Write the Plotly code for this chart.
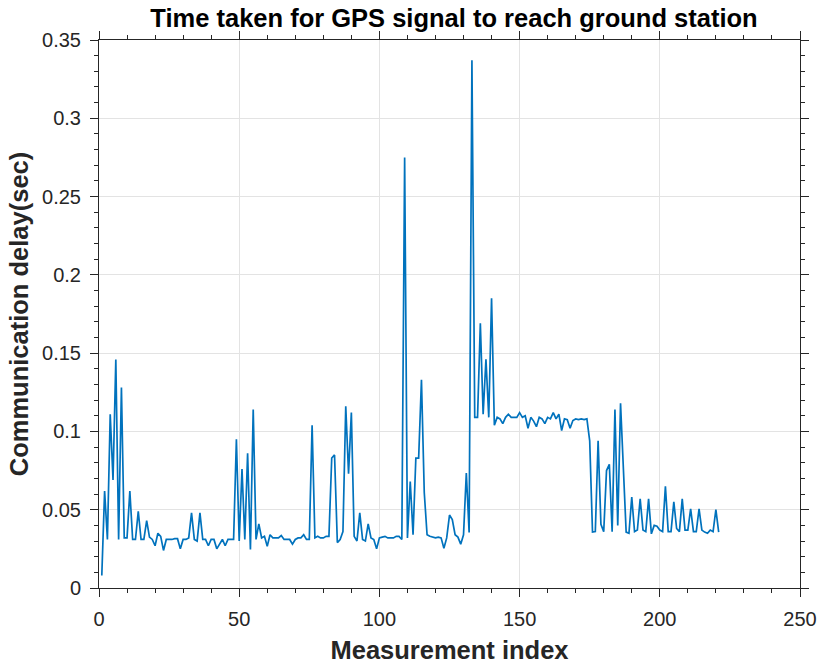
import plotly.graph_objects as go

title_text = "Time taken for GPS signal to reach ground station"
x_label = "Measurement index"
y_label = "Communication delay(sec)"

delay_sec = [
    0.008, 0.062, 0.031, 0.111, 0.069, 0.146, 0.031, 0.128, 0.032, 0.032,
    0.062, 0.031, 0.031, 0.049, 0.031, 0.031, 0.043, 0.0325, 0.031, 0.027,
    0.035, 0.033, 0.024, 0.031, 0.031, 0.031, 0.0315, 0.0315, 0.025, 0.031,
    0.031, 0.032, 0.048, 0.031, 0.030, 0.048, 0.031, 0.031, 0.027, 0.031,
    0.031, 0.025, 0.028, 0.031, 0.027, 0.031, 0.031, 0.031, 0.095, 0.030,
    0.076, 0.031, 0.086, 0.0246, 0.114, 0.031, 0.041, 0.032, 0.033, 0.0267,
    0.034, 0.032, 0.032, 0.032, 0.0335, 0.031, 0.031, 0.031, 0.028, 0.031,
    0.032, 0.032, 0.034, 0.031, 0.031, 0.104, 0.032, 0.033, 0.032, 0.032,
    0.033, 0.033, 0.083, 0.085, 0.029, 0.031, 0.036, 0.116, 0.073, 0.112,
    0.033, 0.030, 0.048, 0.031, 0.030, 0.041, 0.032, 0.031, 0.025, 0.032,
    0.0325, 0.033, 0.032, 0.032, 0.032, 0.033, 0.033, 0.031, 0.275, 0.032,
    0.068, 0.034, 0.083, 0.083, 0.133, 0.061, 0.034, 0.033, 0.0325, 0.032,
    0.0325, 0.032, 0.0254, 0.032, 0.0466, 0.0437, 0.034, 0.0325, 0.028, 0.034,
    0.0735, 0.0355, 0.337, 0.109, 0.109, 0.169, 0.111, 0.146, 0.109, 0.185,
    0.104, 0.109, 0.108, 0.105, 0.109, 0.111, 0.109, 0.109, 0.109, 0.112,
    0.109, 0.110, 0.102, 0.109, 0.1066, 0.103, 0.109, 0.108, 0.105, 0.109,
    0.108, 0.112, 0.108, 0.111, 0.1006, 0.108, 0.1075, 0.102, 0.107, 0.108,
    0.1075, 0.108, 0.1075, 0.108, 0.094, 0.0357, 0.036, 0.094, 0.0406, 0.036,
    0.075, 0.079, 0.036, 0.114, 0.040, 0.118, 0.075, 0.0357, 0.035, 0.058,
    0.036, 0.037, 0.057, 0.037, 0.036, 0.057, 0.0346, 0.040, 0.0395, 0.037,
    0.036, 0.065, 0.036, 0.036, 0.055, 0.038, 0.036, 0.057, 0.037, 0.037,
    0.0506, 0.036, 0.036, 0.0506, 0.037, 0.0357, 0.035, 0.037, 0.036, 0.050,
    0.0357,
]
measurement_index = list(range(1, len(delay_sec) + 1))

x_range = [0, 250]
y_range = [0, 0.35]
x_tickvals = [0, 50, 100, 150, 200, 250]
x_ticktext = ["0", "50", "100", "150", "200", "250"]
y_tickvals = [0, 0.05, 0.1, 0.15, 0.2, 0.25, 0.3, 0.35]
y_ticktext = ["0", "0.05", "0.1", "0.15", "0.2", "0.25", "0.3", "0.35"]

axis_color = "#262626"
grid_color = "#e3e3e3"
font_family = "Liberation Sans, Arial, sans-serif"

fig = go.Figure()
fig.add_trace(go.Scatter(
    x=measurement_index, y=delay_sec, mode="lines",
    line=dict(color="#0072BD", width=1.7), showlegend=False,
))
# invisible trace so that the mirrored (top/right) tick axes are drawn
fig.add_trace(go.Scatter(x=[None], y=[None], xaxis="x2", yaxis="y2",
                         showlegend=False, hoverinfo="skip"))

tick_style = dict(ticks="outside", ticklen=8, tickcolor=axis_color, tickwidth=1, automargin=False)

fig.update_layout(
    xaxis=dict(
        range=x_range, tickvals=x_tickvals, ticktext=x_ticktext,
        showline=True, linecolor=axis_color, linewidth=1, mirror=True,
        showgrid=True, gridcolor=grid_color, gridwidth=1, zeroline=False,
        tickfont=dict(family=font_family, size=20, color=axis_color),
        ticklabelstandoff=5,
        minor=dict(dtick=10, tick0=0, ticks="outside", ticklen=4, tickcolor=axis_color, showgrid=False),
        title=dict(text="<b>" + x_label + "</b>",
                   font=dict(family=font_family, size=25.5, color=axis_color), standoff=12),
        **tick_style,
    ),
    yaxis=dict(
        range=y_range, tickvals=y_tickvals, ticktext=y_ticktext,
        showline=True, linecolor=axis_color, linewidth=1, mirror=True,
        showgrid=True, gridcolor=grid_color, gridwidth=1, zeroline=False,
        tickfont=dict(family=font_family, size=20, color=axis_color),
        ticklabelstandoff=5,
        minor=dict(dtick=0.01, tick0=0, ticks="outside", ticklen=4, tickcolor=axis_color, showgrid=False),
        title=dict(text="<b>" + y_label + "</b>",
                   font=dict(family=font_family, size=25.5, color=axis_color), standoff=6),
        **tick_style,
    ),
    xaxis2=dict(
        range=x_range, overlaying="x", side="top", anchor="y2",
        tickvals=x_tickvals, showticklabels=False, showgrid=False, zeroline=False, showline=False,
        minor=dict(dtick=10, tick0=0, ticks="outside", ticklen=4, tickcolor=axis_color, showgrid=False),
        **tick_style,
    ),
    yaxis2=dict(
        range=y_range, overlaying="y", side="right", anchor="x2",
        tickvals=y_tickvals, showticklabels=False, showgrid=False, zeroline=False, showline=False,
        minor=dict(dtick=0.01, tick0=0, ticks="outside", ticklen=4, tickcolor=axis_color, showgrid=False),
        **tick_style,
    ),
    width=821, height=668,
    margin=dict(l=99, r=21, t=40, b=80),
    paper_bgcolor="white", plot_bgcolor="white",
    title=dict(text="<b>" + title_text + "</b>", x=0.553, xanchor="center", y=0.973, yanchor="middle",
               font=dict(family=font_family, size=25.5, color="black")),
)

fig.write_html("out.html")
